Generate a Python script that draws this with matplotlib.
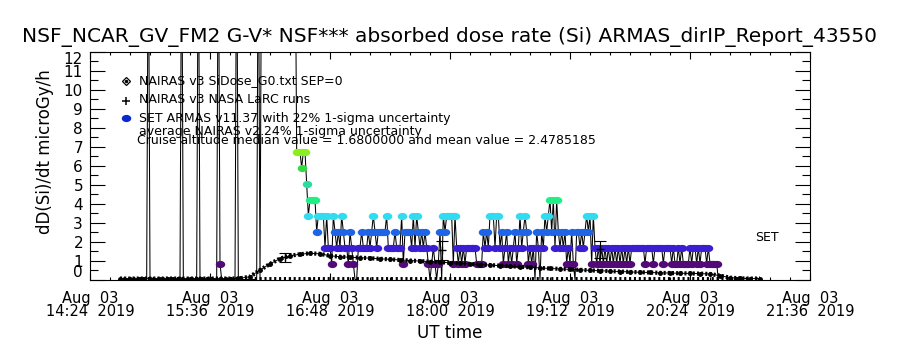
import numpy as np
import matplotlib.pyplot as plt
from matplotlib.path import Path
from matplotlib.transforms import Affine2D

TITLE = "NSF_NCAR_GV_FM2 G-V* NSF*** absorbed dose rate (Si) ARMAS_dirIP_Report_43550"
Y_LABEL = "dD(Si)/dt microGy/h"
X_LABEL = "UT time"

# x axis in minutes after 2019-08-03 14:24 UT
XTICK_MIN = [0, 72, 144, 216, 288, 360, 432]
XTICK_LABELS = ["Aug  03\n14:24  2019", "Aug  03\n15:36  2019", "Aug  03\n16:48  2019",
                "Aug  03\n18:00  2019", "Aug  03\n19:12  2019", "Aug  03\n20:24  2019",
                "Aug  03\n21:36  2019"]
YTICKS = list(range(13))

# ARMAS dose rate comes in steps of 0.84 microGy/h (median 1.68 = 2 steps)
DOSE_STEP = 0.84

# start of flight: zeros with off-scale spikes (20 = off the top of the plot)
ARMAS_EARLY_MIN = [20, 34, 35, 36, 54, 55, 56, 64, 65, 66, 76, 77, 78, 79,
                   87, 88, 89, 100, 101, 102, 103, 123]
ARMAS_EARLY_DOSE = [0, 0, 20, 0, 0, 20, 0, 0, 20, 0, 0, 20, 0.84, 0,
                    0, 20, 0, 0, 20, 0, 20, 20]

# one reading per minute from minute 124, in units of DOSE_STEP
ARMAS_START_MIN = 124
ARMAS_COUNTS = [
    8, 8, 8, 7, 8, 8, 6, 4, 5, 5, 5, 5, 3, 4, 4, 4, 4, 2, 4, 2, 2, 1,
    4, 3, 2, 3, 2, 4, 3, 2, 2, 1, 3, 2, 1, 0, 0,
    2, 2, 3, 2, 2, 2, 3, 2, 3, 4, 3, 2, 3, 3, 3, 3, 3, 4, 2, 2, 2, 2, 3, 2, 2, 2, 4, 1, 3,
    3, 3, 3, 2, 4, 2, 4, 3, 2, 3, 2, 3, 2, 1, 0, 1, 2, 1, 0, 1, 3, 0, 4, 3, 4,
    4, 4, 4, 1, 4, 2, 1, 2, 1, 2, 1, 2, 2, 2, 2, 2, 2, 1, 1, 1, 1, 3, 2, 3, 2, 4,
    4, 4, 2, 4, 4, 2, 3, 1, 2, 3, 1, 2, 1, 2, 3, 1, 2, 4, 2, 3, 4, 3, 1, 2, 1, 2, 0, 3,
    2, 0, 3, 2, 4, 3, 4, 5, 3, 5,
    2, 5, 3, 2, 3, 2, 3, 1, 2, 1, 3, 1, 0, 3, 3, 2, 3, 2, 3, 4, 3, 4, 1, 4, 2, 1, 2,
    1, 2, 1, 2, 1, 2, 1, 2, 1, 2, 1, 2, 1, 2, 1, 2, 1, 2, 1, 2,
    2, 2, 2, 2, 2, 2, 2, 1, 2, 2, 2, 2, 1, 2, 2, 2, 2, 2, 1, 2,
    2, 2, 2, 1, 2, 1, 1, 2, 1, 2, 1, 1, 1, 1, 2, 1, 2, 2, 1, 2,
    1, 2, 2, 2, 1, 2, 1, 1, 1, 1, 1, 0,
]

LEVEL_COLORS = {1: "#520a78", 2: "#3c1ed2", 3: "#1e64e6", 4: "#32dcf0",
                5: "#22ee88", 6: "#2adca0", 7: "#30dc40", 8: "#8cee20"}

# NAIRAS v3 SiDose model along the flight track, every 6 minutes
NAIRAS_MIN = list(range(18, 403, 6))
NAIRAS_DOSE = [0.05, 0.05, 0.05, 0.05, 0.05, 0.05, 0.05, 0.05, 0.05, 0.05, 0.05, 0.05,
               0.06, 0.15, 0.5, 0.82, 1.1, 1.25, 1.33, 1.38, 1.35, 1.25, 1.2, 1.17,
               1.15, 1.12, 1.09, 1.06, 1.03, 1.0, 0.97, 0.94, 0.91, 0.88, 0.85, 0.82,
               0.79, 0.76, 0.73, 0.70, 0.67, 0.64, 0.61, 0.58, 0.56, 0.53, 0.51, 0.48,
               0.46, 0.44, 0.42, 0.40, 0.38, 0.37, 0.35, 0.34, 0.33, 0.32, 0.31, 0.29,
               0.2, 0.1, 0.06, 0.05, 0.05]

# NAIRAS v3 NASA LaRC runs with 24% uncertainty
LARC_MIN = [117, 211, 306]
LARC_DOSE = [1.18, 1.55, 1.6]
LARC_ERR = [0.24, 0.5, 0.45]

BASE_MIN = [20, 402]
BASE_DOSE = [0, 0]

fig = plt.figure(figsize=(9, 3.5), dpi=100)
ax = fig.add_axes([0.1, 0.2014, 0.8, 0.6514])

ellipse = Path.unit_circle().transformed(Affine2D().scale(1.0, 0.72))
MS = 5.8

counts = np.array(ARMAS_COUNTS)
t_main = ARMAS_START_MIN + np.arange(len(counts))
t_all = np.concatenate([ARMAS_EARLY_MIN, t_main])
d_all = np.concatenate([ARMAS_EARLY_DOSE, counts * DOSE_STEP])
ax.plot(t_all, d_all, color="black", lw=0.75, zorder=3)
for level, color in LEVEL_COLORS.items():
    sel = counts == level
    ax.plot(t_main[sel], counts[sel] * DOSE_STEP, ls="none", marker=ellipse, ms=MS,
            mfc=color, mec=color, zorder=4)
early_sel = (np.array(ARMAS_EARLY_DOSE) > 0) & (np.array(ARMAS_EARLY_DOSE) < 12)
ax.plot(np.array(ARMAS_EARLY_MIN)[early_sel], np.array(ARMAS_EARLY_DOSE)[early_sel],
        ls="none", marker=ellipse, ms=MS, mfc=LEVEL_COLORS[1], mec=LEVEL_COLORS[1], zorder=4)

# NAIRAS curve: dense diamonds give the checkered look
ax.plot(NAIRAS_MIN, NAIRAS_DOSE, color="black", lw=3.0, ls=(0, (0.5, 0.5)), zorder=5)
ax.plot(NAIRAS_MIN, NAIRAS_DOSE, color="black", lw=0.7, marker="o", ms=2.5, zorder=5)

ax.plot(BASE_MIN, BASE_DOSE, color="black", lw=5, ls=(0, (0.3, 0.4)), zorder=5)

ax.errorbar(LARC_MIN, LARC_DOSE, yerr=LARC_ERR, fmt="+", color="black", ms=6,
            elinewidth=0.8, capsize=4, capthick=0.8, zorder=6)

ax.set_xlim(0, 432)
ax.set_ylim(0, 12)
ax.set_xticks(XTICK_MIN)
ax.set_xticklabels(XTICK_LABELS, fontsize=10.5, linespacing=0.85)
ax.set_xticks(np.arange(0, 433, 12), minor=True)
ax.set_yticks(YTICKS)
ax.set_yticklabels([str(v) for v in YTICKS], fontsize=11)
ax.set_yticks(np.arange(0, 12.01, 0.5), minor=True)
ylabs = ax.get_yticklabels()
ylabs[0].set_va("bottom")
ylabs[-1].set_va("top")

ax.tick_params(axis="x", which="major", direction="in", length=5, width=0.8,
               top=True, pad=8)
ax.tick_params(axis="x", which="minor", direction="in", length=2.5, width=0.8, top=True)
ax.tick_params(axis="y", which="major", direction="in", length=11, width=0.8,
               right=True, pad=5)
ax.tick_params(axis="y", which="minor", direction="in", length=5.5, width=0.8, right=True)
for s in ax.spines.values():
    s.set_linewidth(0.8)

fig.text(0.5, 0.895, TITLE, ha="center", va="center", fontsize=14.5)
fig.text(0.05, 0.566, Y_LABEL, ha="center", va="center", rotation=90, fontsize=12)
fig.text(0.5, 0.048, X_LABEL, ha="center", va="center", fontsize=12)

# in-plot legend
tr = ax.transAxes
def axy(px_y):
    return (279.5 - px_y) / 228.0
def axx(px_x):
    return (px_x - 90) / 720.0

ax.plot(axx(126), axy(81), transform=tr, marker="D", ms=4.5, mfc="white", mec="black",
        mew=0.9, clip_on=False)
ax.plot(axx(126), axy(81), transform=tr, marker="o", ms=1.5, color="black", clip_on=False)
ax.plot(axx(126), axy(101), transform=tr, marker="+", ms=5.5, color="black", mew=1.1)
ax.plot(axx(126), axy(118), transform=tr, marker=ellipse, ms=MS, mfc="#0a28d2",
        mec="#0a28d2")
ax.text(axx(139), axy(81), "NAIRAS v3 SiDose_G0.txt SEP=0", transform=tr,
        fontsize=9, va="center")
ax.text(axx(139), axy(99), "NAIRAS v3 NASA LaRC runs", transform=tr,
        fontsize=9, va="center")
ax.text(axx(139), axy(118), "SET ARMAS v11.37 with 22% 1-sigma uncertainty",
        transform=tr, fontsize=9, va="center")
ax.text(axx(139), axy(131), "average NAIRAS v2 24% 1-sigma uncertainty",
        transform=tr, fontsize=9, va="center")
ax.text(axx(137), axy(140),
        "Cruise altitude median value = 1.6800000 and mean value = 2.4785185",
        transform=tr, fontsize=9, va="center")
ax.text(axx(755), axy(237), "SET", transform=tr, fontsize=9, va="center")

fig.savefig("out.png", dpi=100)
